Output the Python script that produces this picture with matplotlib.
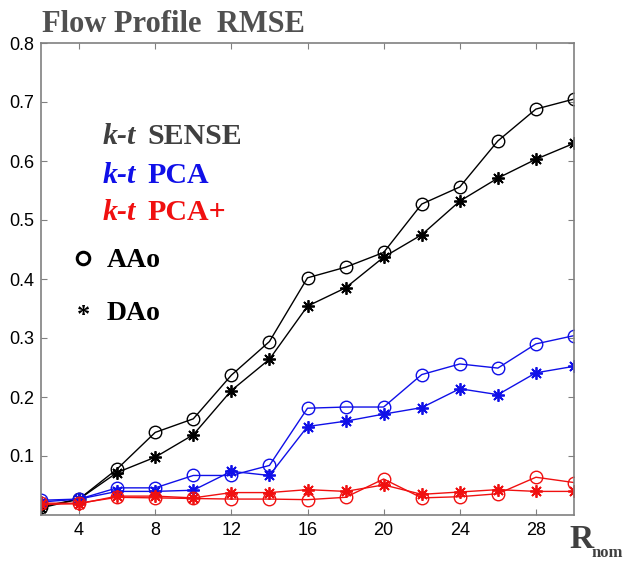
import matplotlib
matplotlib.use('Agg')

from matplotlib import pyplot as plt
from matplotlib.lines import Line2D

# R_nom values
r_nom = [2, 4, 6, 8, 10, 12, 14, 16, 18, 20, 22, 24, 26, 28, 30]

# flow profile RMSE, AAo (circles) / DAo (stars)
sense_aao = [0.014, 0.027, 0.078, 0.140, 0.163, 0.237, 0.294, 0.402, 0.420, 0.445, 0.527, 0.556, 0.634, 0.688, 0.705]
sense_dao = [0.012, 0.027, 0.072, 0.098, 0.136, 0.211, 0.264, 0.354, 0.385, 0.437, 0.475, 0.532, 0.571, 0.603, 0.630]
pca_aao = [0.025, 0.027, 0.046, 0.046, 0.067, 0.067, 0.084, 0.181, 0.183, 0.183, 0.238, 0.256, 0.249, 0.290, 0.304]
pca_dao = [0.022, 0.027, 0.040, 0.040, 0.042, 0.074, 0.067, 0.150, 0.159, 0.171, 0.182, 0.214, 0.204, 0.241, 0.252]
pcap_aao = [0.020, 0.020, 0.030, 0.029, 0.028, 0.027, 0.027, 0.026, 0.030, 0.061, 0.029, 0.031, 0.036, 0.064, 0.055]
pcap_dao = [0.018, 0.019, 0.032, 0.032, 0.029, 0.038, 0.038, 0.043, 0.040, 0.051, 0.035, 0.039, 0.043, 0.040, 0.040]

fig = plt.figure(figsize=(6.33, 5.61), dpi=100)
ax = fig.add_axes([41/633, 1-515/561, 533/633, 472/561])

star = (8, 2, 0)  # asterisk, like matlab '*'
for aao, dao, col in [(sense_aao, sense_dao, 'black'),
                      (pca_aao, pca_dao, '#1010e8'),
                      (pcap_aao, pcap_dao, '#f01010')]:
    ax.plot(r_nom, aao, '-o', color=col, lw=1.0, ms=9, mfc='none', mew=1.0)
    ax.plot(r_nom, dao, '-', marker=star, color=col, lw=1.0, ms=9, mew=1.3)

ax.set_xlim([2, 30])
ax.set_ylim([0, 0.8])
ax.set_xticks([4, 8, 12, 16, 20, 24, 28])
ax.set_yticks([0.1, 0.2, 0.3, 0.4, 0.5, 0.6, 0.7, 0.8])
ax.set_yticklabels(['0.1', '0.2', '0.3', '0.4', '0.5', '0.6', '0.7', '0.8'])
ax.tick_params(direction='in', top=True, right=True, length=4, color='#808080',
               labelsize=13, pad=5)
for lab in ax.get_xticklabels() + ax.get_yticklabels():
    lab.set_fontfamily('Liberation Sans')
for s in ax.spines.values():
    s.set_color('#808080')
    s.set_linewidth(1.2)

serif = 'Liberation Serif'
W, H = 633.0, 561.0

def ftext(x, y, s, **kw):
    fig.text(x/W, 1-y/H, s, family=serif, fontweight='bold', va='baseline', **kw)

ftext(42, 32, 'Flow Profile  RMSE', fontsize=22, color='#505050')

for y, name, col in [(144, 'SENSE', '#404040'), (183, 'PCA', '#1010e8'), (220, 'PCA+', '#f01010')]:
    ftext(103, y, 'k-t', fontsize=21.5, style='italic', color=col)
    ftext(147, y, name, fontsize=21.5, color=col)

fig.add_artist(Line2D([83/W], [1-258/H], marker='o', ms=9, mfc='none', mec='black',
                      mew=2.2, transform=fig.transFigure))
ftext(107, 267, 'AAo', fontsize=20, color='black')
ftext(77, 322, '*', fontsize=19, color='black')
ftext(107, 320, 'DAo', fontsize=20, color='black')

ftext(569, 548, 'R', fontsize=24, color='#404040')
ftext(591, 557, 'nom', fontsize=12, color='#404040')

fig.savefig('out.png', dpi=100)
